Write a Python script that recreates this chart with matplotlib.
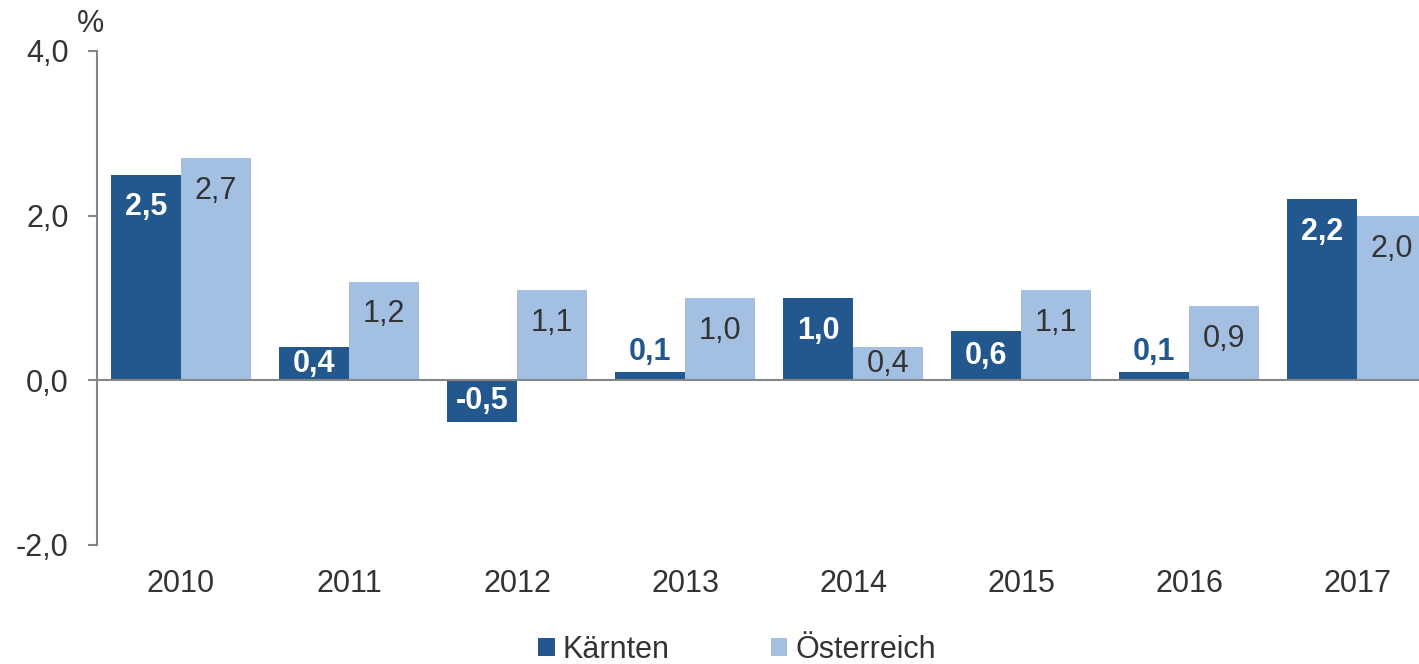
import matplotlib
matplotlib.use("Agg")
import matplotlib.pyplot as plt
import numpy as np

plt.rcParams['font.family'] = ['Liberation Sans', 'DejaVu Sans']

years = ["2010", "2011", "2012", "2013", "2014", "2015", "2016", "2017"]
kaernten = [2.5, 0.4, -0.5, 0.1, 1.0, 0.6, 0.1, 2.2]
oesterreich = [2.7, 1.2, 1.1, 1.0, 0.4, 1.1, 0.9, 2.0]
yticks = [-2.0, 0.0, 2.0, 4.0]

dark = "#23588f"
light = "#a3c0e3"
txt = "#333333"
grey = "#868686"
fs = 22

fig = plt.figure(figsize=(14.19, 6.64), dpi=100)
ax = fig.add_axes([97 / 1419, 1 - 545 / 664, 1 - 97 / 1419, (545 - 51) / 664])

x = np.arange(len(years))
w = 70 / 168
ax.bar(x - w / 2, kaernten, w, color=dark, label="Kärnten")
ax.bar(x + w / 2, oesterreich, w, color=light, label="Österreich")


def label_y(v):
    # inside end for tall bars, centered for short ones
    if v >= 0:
        return max(v / 2, v - 0.4)
    return min(v / 2, v + 0.4)


for i, v in enumerate(kaernten):
    s = f"{v:.1f}".replace(".", ",")
    if 0 <= v < 0.3:
        ax.text(x[i] - w / 2, v + 0.25, s, ha="center", va="center", color=dark,
                fontsize=fs, fontweight="bold")
    else:
        ax.text(x[i] - w / 2, label_y(v), s, ha="center", va="center", color="white",
                fontsize=fs, fontweight="bold")

for i, v in enumerate(oesterreich):
    s = f"{v:.1f}".replace(".", ",")
    ax.text(x[i] + w / 2, label_y(v), s, ha="center", va="center", color=txt,
            fontsize=fs, clip_on=False)

ax.set_xlim(-0.5, (1419 - 181) / 168)
ax.set_ylim(-2, 4)
ax.axhline(0, color=grey, lw=1.5, zorder=3)

for sp in ["top", "right", "bottom"]:
    ax.spines[sp].set_visible(False)
ax.spines["left"].set_color(grey)
ax.spines["left"].set_linewidth(1.5)

ax.set_yticks(yticks)
ax.set_yticklabels([f"{t:.1f}".replace(".", ",") for t in yticks])
ax.tick_params(axis="y", length=6.5, width=1.5, color=grey, pad=14, labelsize=fs, labelcolor=txt)
ax.set_xticks(x)
ax.set_xticklabels(years)
ax.tick_params(axis="x", length=0, pad=17, labelsize=fs, labelcolor=txt)

fig.text(90 / 1419, 1 - 24 / 664, "%", ha="center", va="center", fontsize=fs, color=txt)

fig.legend(loc="center", bbox_to_anchor=(737 / 1419, 1 - 650 / 664), ncol=2, frameon=False,
           fontsize=fs, handlelength=0.55, handleheight=0.55, handletextpad=0.25,
           columnspacing=3.3, labelcolor=txt)

fig.savefig("out.png", dpi=100)
